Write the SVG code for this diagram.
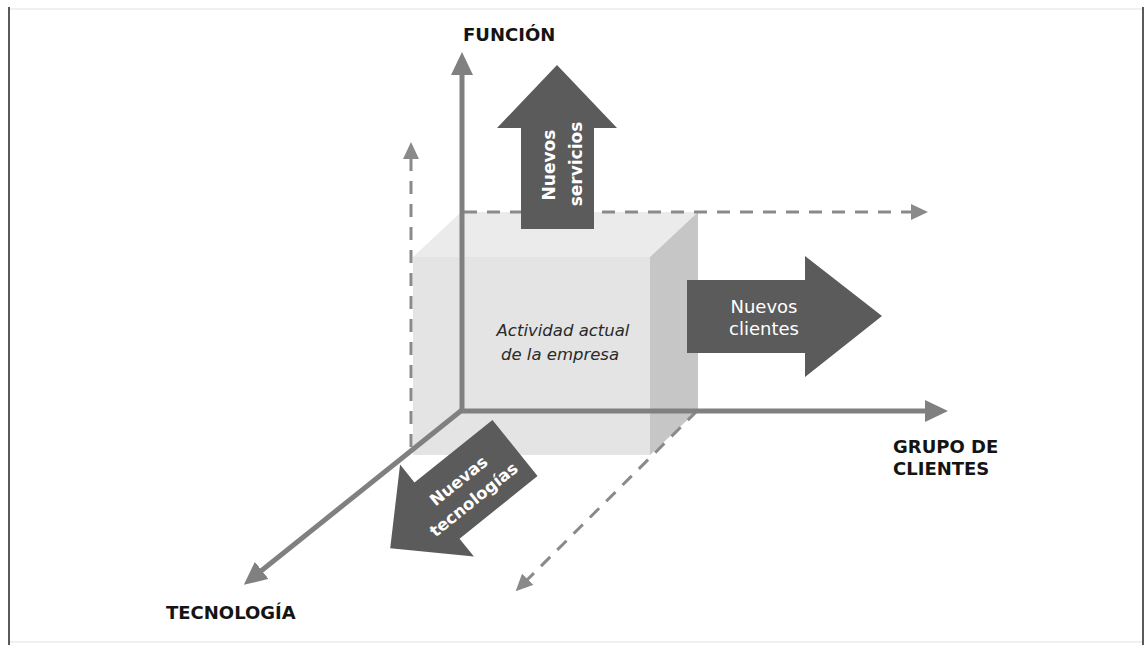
<svg xmlns="http://www.w3.org/2000/svg" width="1145" height="645" viewBox="0 0 1145 645">
<style>
.axis{stroke:#808080;stroke-width:5;fill:none}
.dash{stroke:#8a8a8a;stroke-width:3;fill:none;stroke-dasharray:13 10}
.big{fill:#5b5b5b}
.lbl{font-family:"DejaVu Sans",Verdana,sans-serif;font-weight:bold;font-size:18px;fill:#141414}
.wt{font-family:"DejaVu Sans",Verdana,sans-serif;fill:#ffffff;text-anchor:middle}
.it{font-family:"DejaVu Sans",Verdana,sans-serif;font-style:italic;font-size:16.5px;fill:#2a2a2a;text-anchor:middle}
</style>
<defs>
<marker id="axHead" viewBox="0 0 23 22" markerWidth="23" markerHeight="22" refX="1" refY="11" orient="auto" markerUnits="userSpaceOnUse">
<path d="M0,0 L23,11 L0,22 z" fill="#808080"/>
</marker>
<marker id="dHead" viewBox="0 0 17 16" markerWidth="17" markerHeight="16" refX="1" refY="8" orient="auto" markerUnits="userSpaceOnUse">
<path d="M0,0 L17,8 L0,16 z" fill="#8a8a8a"/>
</marker>
</defs>
<rect width="1145" height="645" fill="#ffffff"/>
<g id="frame">
<line x1="9" y1="7" x2="9" y2="645" stroke="#5a5a5a" stroke-width="2"/>
<line x1="1143" y1="7" x2="1143" y2="645" stroke="#5a5a5a" stroke-width="2"/>
<line x1="10" y1="9" x2="1142" y2="9" stroke="#f0f0f0" stroke-width="2"/>
<line x1="10" y1="642" x2="1142" y2="642" stroke="#f0f0f0" stroke-width="2"/>
</g>
<g id="box">
<polygon points="413,257 461,212 698,212 650,257" fill="#ebebeb"/>
<polygon points="413,257 650,257 650,455 413,455" fill="#e4e4e4"/>
<polygon points="650,257 698,212 698,410 650,455" fill="#c6c6c6"/>
<text class="it" x="563" y="336">Actividad actual</text>
<text class="it" x="560" y="360">de la empresa</text>
</g>
<g id="connectors">
<line class="dash" x1="411" y1="447" x2="411" y2="158" marker-end="url(#dHead)"/>
<line class="dash" x1="464" y1="212" x2="912" y2="212" marker-end="url(#dHead)"/>
<line class="dash" x1="697" y1="411" x2="527" y2="580" marker-end="url(#dHead)"/>
<line class="axis" x1="462" y1="412" x2="462" y2="74" marker-end="url(#axHead)"/>
<line class="axis" x1="460" y1="411" x2="926" y2="411" marker-end="url(#axHead)"/>
<line class="axis" x1="462" y1="410" x2="261" y2="571" marker-end="url(#axHead)"/>
</g>
<g id="nuevos-servicios">
<polygon class="big" points="521,229 521,128 497,128 557,65 617,128 594,128 594,229"/>
<text class="wt" font-size="17" font-weight="bold" transform="translate(555,165) rotate(-90)">Nuevos</text>
<text class="wt" font-size="17" font-weight="bold" transform="translate(582,164) rotate(-90)">servicios</text>
</g>
<g id="nuevos-clientes">
<polygon class="big" points="687,280 805,280 805,256 882,316 805,377 805,353 687,353"/>
<text class="wt" font-size="18" x="764" y="313">Nuevos</text>
<text class="wt" font-size="18" x="764" y="335">clientes</text>
</g>
<g id="nuevas-tecnologias">
<polygon class="big" transform="translate(515,448) rotate(141.25)" points="0,-36 100,-36 100,-59 160,0 100,59 100,36 0,36"/>
<g transform="translate(466,490) rotate(-38.75)">
<text class="wt" font-size="16.5" font-weight="bold" x="0" y="-6">Nuevas</text>
<text class="wt" font-size="16.5" font-weight="bold" x="0" y="18">tecnologías</text>
</g>
</g>
<g id="labels">
<text class="lbl" x="463" y="41">FUNCIÓN</text>
<text class="lbl" x="893" y="453">GRUPO DE</text>
<text class="lbl" x="893" y="475">CLIENTES</text>
<text class="lbl" x="166" y="619">TECNOLOGÍA</text>
</g>
</svg>
